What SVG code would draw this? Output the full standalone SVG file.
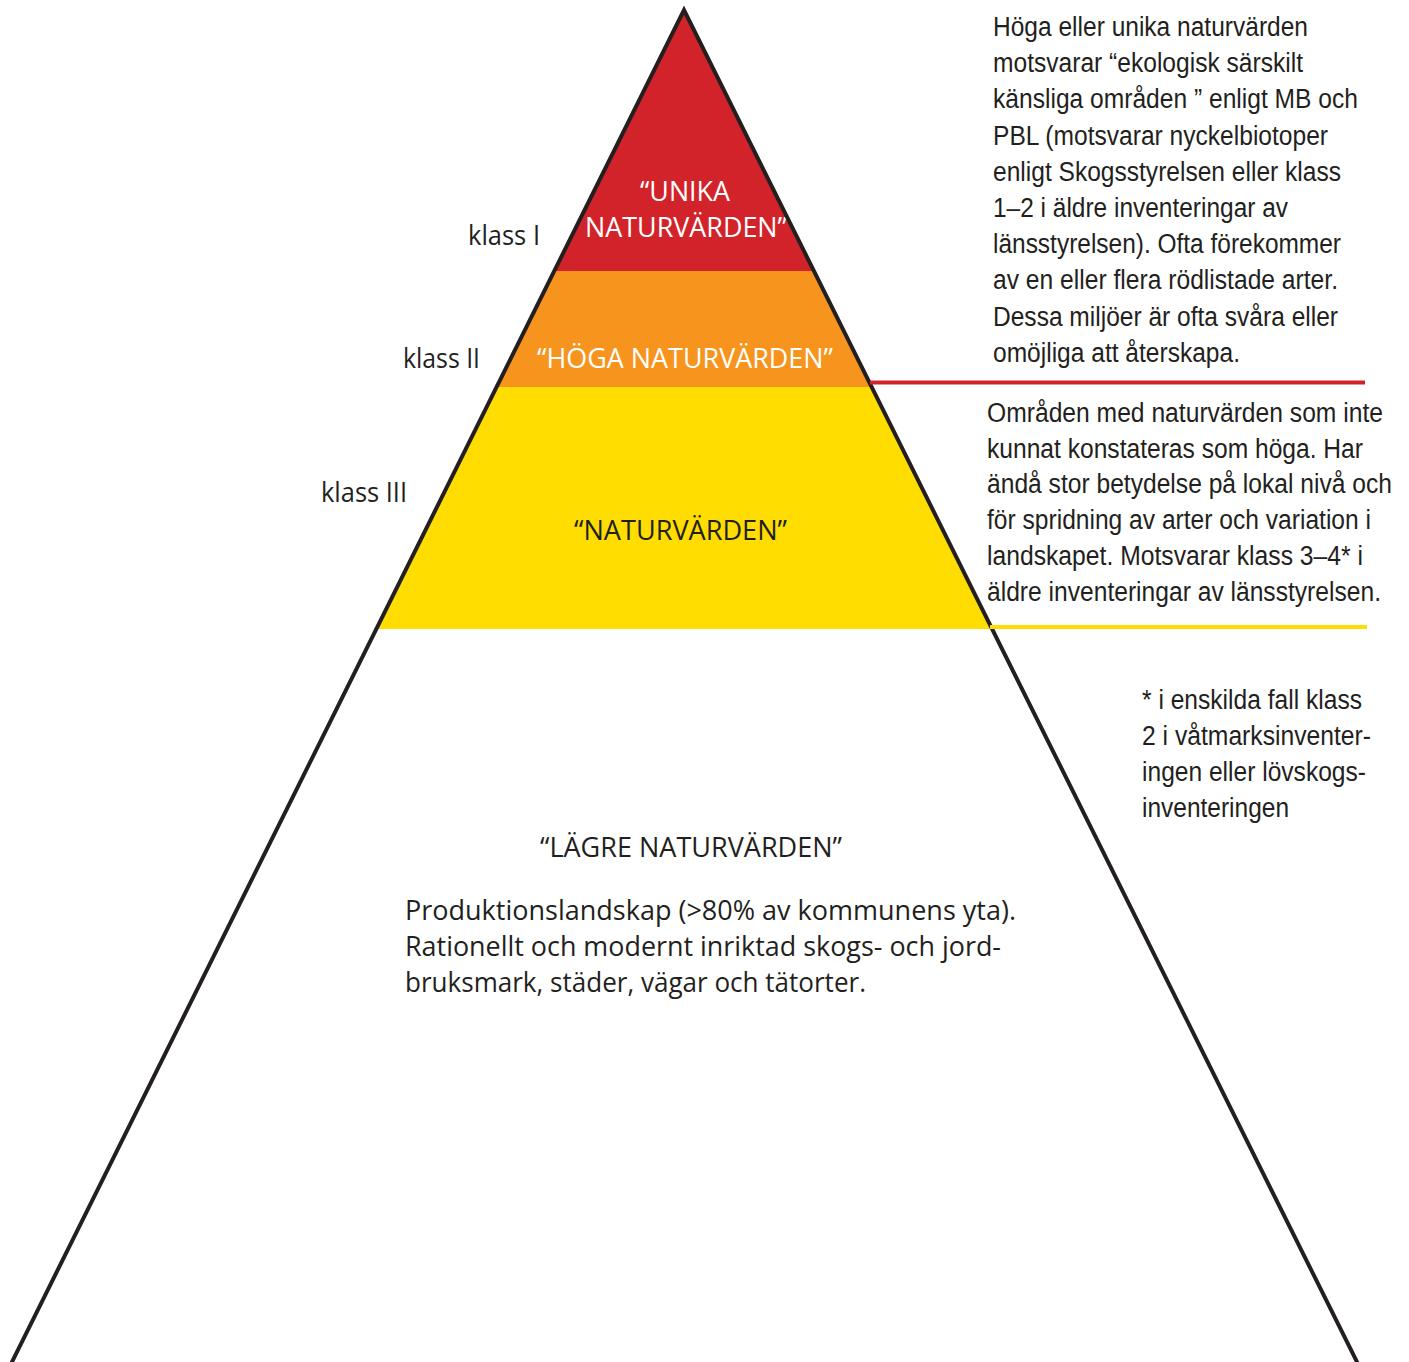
<svg xmlns="http://www.w3.org/2000/svg" width="1409" height="1362" viewBox="0 0 1409 1362">
<style>
.lbl{font-family:"Open Sans","Noto Sans","Liberation Sans",sans-serif;font-size:27px;fill:#231F20}
.wht{fill:#FFFFFF}
.desc{font-family:"Liberation Sans Narrow","Liberation Sans",Arial,sans-serif;font-size:27px;fill:#231F20}
.edge{stroke:#231F20;stroke-width:4;fill:none}
</style>
<rect width="1409" height="1362" fill="#FFFFFF"/>
<g id="band-unika">
<polygon points="684,10 814,271 554.3,271" fill="#D2232A"/>
<text class="lbl wht" x="640" y="201" textLength="90" lengthAdjust="spacingAndGlyphs">“UNIKA</text>
<text class="lbl wht" x="585" y="237" textLength="202" lengthAdjust="spacingAndGlyphs">NATURVÄRDEN”</text>
</g>
<g id="band-hoga">
<polygon points="554.3,271 814,271 871.7,387 496.6,387" fill="#F7941D"/>
<text class="lbl wht" x="537" y="368" textLength="296" lengthAdjust="spacingAndGlyphs">“HÖGA NATURVÄRDEN”</text>
</g>
<g id="band-natur">
<polygon points="496.6,387 871.7,387 992.3,629 376.4,629" fill="#FFDD00"/>
<text class="lbl" x="574" y="540" textLength="213" lengthAdjust="spacingAndGlyphs">“NATURVÄRDEN”</text>
</g>
<g id="band-lagre">
<text class="lbl" x="540" y="857" textLength="302" lengthAdjust="spacingAndGlyphs">“LÄGRE NATURVÄRDEN”</text>
<text class="lbl" x="405" y="920" textLength="611" lengthAdjust="spacingAndGlyphs">Produktionslandskap (&gt;80% av kommunens yta).</text>
<text class="lbl" x="405" y="956" textLength="596" lengthAdjust="spacingAndGlyphs">Rationellt och modernt inriktad skogs- och jord-</text>
<text class="lbl" x="405" y="992" textLength="461" lengthAdjust="spacingAndGlyphs">bruksmark, städer, vägar och tätorter.</text>
</g>
<g id="pyramid-outline">
<polyline class="edge" points="6,1374 684,10 1363,1374" stroke-linejoin="miter"/>
</g>
<g id="class-labels">
<text class="lbl" x="468" y="245" textLength="72" lengthAdjust="spacingAndGlyphs">klass I</text>
<text class="lbl" x="403" y="368" textLength="77" lengthAdjust="spacingAndGlyphs">klass II</text>
<text class="lbl" x="321" y="502" textLength="86" lengthAdjust="spacingAndGlyphs">klass III</text>
</g>
<g id="connectors">
<line x1="870" y1="382.5" x2="1365" y2="382.5" stroke="#D2232A" stroke-width="4"/>
<line x1="990" y1="627" x2="1367" y2="627" stroke="#FFDD00" stroke-width="4"/>
</g>
<g id="desc-high">
<text class="desc" x="993" y="36" textLength="315" lengthAdjust="spacingAndGlyphs">Höga eller unika naturvärden</text>
<text class="desc" x="993" y="72" textLength="310" lengthAdjust="spacingAndGlyphs">motsvarar “ekologisk särskilt</text>
<text class="desc" x="993" y="108" textLength="365" lengthAdjust="spacingAndGlyphs">känsliga områden ” enligt MB och</text>
<text class="desc" x="993" y="145" textLength="335" lengthAdjust="spacingAndGlyphs">PBL (motsvarar nyckelbiotoper</text>
<text class="desc" x="993" y="181" textLength="348" lengthAdjust="spacingAndGlyphs">enligt Skogsstyrelsen eller klass</text>
<text class="desc" x="993" y="217" textLength="295" lengthAdjust="spacingAndGlyphs">1–2 i äldre inventeringar av</text>
<text class="desc" x="993" y="253" textLength="348" lengthAdjust="spacingAndGlyphs">länsstyrelsen). Ofta förekommer</text>
<text class="desc" x="993" y="289" textLength="345" lengthAdjust="spacingAndGlyphs">av en eller flera rödlistade arter.</text>
<text class="desc" x="993" y="326" textLength="345" lengthAdjust="spacingAndGlyphs">Dessa miljöer är ofta svåra eller</text>
<text class="desc" x="993" y="362" textLength="247" lengthAdjust="spacingAndGlyphs">omöjliga att återskapa.</text>
</g>
<g id="desc-natur">
<text class="desc" x="987" y="422" textLength="396" lengthAdjust="spacingAndGlyphs">Områden med naturvärden som inte</text>
<text class="desc" x="987" y="458" textLength="376" lengthAdjust="spacingAndGlyphs">kunnat konstateras som höga. Har</text>
<text class="desc" x="987" y="493" textLength="405" lengthAdjust="spacingAndGlyphs">ändå stor betydelse på lokal nivå och</text>
<text class="desc" x="987" y="529" textLength="384" lengthAdjust="spacingAndGlyphs">för spridning av arter och variation i</text>
<text class="desc" x="987" y="565" textLength="376" lengthAdjust="spacingAndGlyphs">landskapet. Motsvarar klass 3–4* i</text>
<text class="desc" x="987" y="601" textLength="394" lengthAdjust="spacingAndGlyphs">äldre inventeringar av länsstyrelsen.</text>
</g>
<g id="footnote">
<text class="desc" x="1142" y="709" textLength="220" lengthAdjust="spacingAndGlyphs">* i enskilda fall klass</text>
<text class="desc" x="1142" y="745" textLength="229" lengthAdjust="spacingAndGlyphs">2 i våtmarksinventer-</text>
<text class="desc" x="1142" y="781" textLength="224" lengthAdjust="spacingAndGlyphs">ingen eller lövskogs-</text>
<text class="desc" x="1142" y="817" textLength="147" lengthAdjust="spacingAndGlyphs">inventeringen</text>
</g>
</svg>
